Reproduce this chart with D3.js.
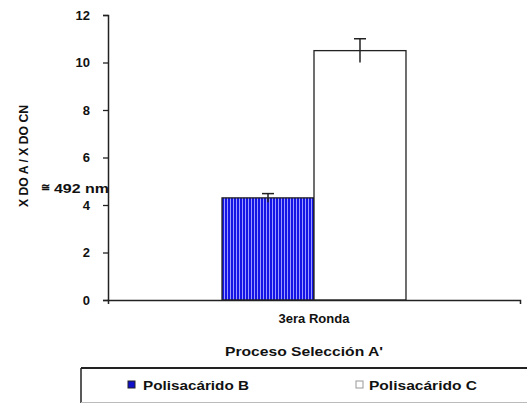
<!DOCTYPE html>
<html><head><meta charset="utf-8">
<script src="https://cdn.jsdelivr.net/npm/d3@7"></script>
<style>
body{margin:0;background:#fff;}
text{font-family:"Liberation Sans",Arial,sans-serif;font-weight:bold;fill:#111;}
</style></head>
<body><svg id="c" width="527" height="404"></svg>
<script>
const categories = ["3era Ronda"];
const seriesNames = ["Polisacárido B", "Polisacárido C"];
const polisacaridoB = [4.3];
const polisacaridoC = [10.5];
const errB = [0.18];
const errC = [0.5];
const yTicks = [0, 2, 4, 6, 8, 10, 12];

const svg = d3.select("#c");
const defs = svg.append("defs");
const pat = defs.append("pattern").attr("id","stripes").attr("patternUnits","userSpaceOnUse")
  .attr("width",3).attr("height",10);
pat.append("rect").attr("width",3).attr("height",10).attr("fill","#1414e6");
pat.append("rect").attr("x",2).attr("width",1).attr("height",10).attr("fill","#9a9aff");

const pLeft = 108, pRight = 520, pTop = 15, pBottom = 300;
const y = d3.scaleLinear().domain([0,12]).range([pBottom, pTop]);
const x0 = d3.scaleBand().domain(categories).range([pLeft, pRight]).paddingInner(0.3826).paddingOuter(0.3826);
const x1 = d3.scaleBand().domain(seriesNames).range([0, x0.bandwidth()]).padding(0);

const data = categories.map((c,i)=>({cat:c, vals:[
  {s:seriesNames[0], v:polisacaridoB[i], e:errB[i], fill:"url(#stripes)"},
  {s:seriesNames[1], v:polisacaridoC[i], e:errC[i], fill:"#fff"}]}));

const g = svg.append("g");
data.forEach(d=>{
  d.vals.forEach(b=>{
    const bx = x0(d.cat) + x1(b.s);
    g.append("rect").attr("x",bx).attr("y",y(b.v)).attr("width",x1.bandwidth()).attr("height",y(0)-y(b.v))
      .attr("fill",b.fill).attr("stroke","#222").attr("stroke-width",1.3);
    const cx = bx + x1.bandwidth()/2;
    g.append("line").attr("x1",cx).attr("x2",cx).attr("y1",y(b.v+b.e)).attr("y2",y(b.v-b.e)).attr("stroke","#222").attr("stroke-width",1.5);
    g.append("line").attr("x1",cx-6).attr("x2",cx+6).attr("y1",y(b.v+b.e)).attr("y2",y(b.v+b.e)).attr("stroke","#222").attr("stroke-width",1.5);
  });
});

// y axis
const ya = svg.append("g").attr("transform",`translate(${pLeft},0)`)
  .call(d3.axisLeft(y).tickValues(yTicks).tickFormat(d3.format("d")).tickSize(5).tickPadding(13));
ya.select(".domain").attr("stroke","#222").attr("stroke-width",1.5);
ya.selectAll(".tick line").attr("stroke","#222").attr("stroke-width",1.3);
ya.selectAll(".tick text").attr("font-size",13).attr("font-family","Liberation Sans, Arial, sans-serif").attr("font-weight","bold").attr("fill","#111");

// x axis
const xa = svg.append("g").attr("transform",`translate(0,${pBottom})`)
  .call(d3.axisBottom(x0).tickSize(0).tickPadding(14).tickSizeOuter(4));
xa.select(".domain").attr("stroke","#222").attr("stroke-width",1.5);
xa.selectAll(".tick text").attr("font-size",12).attr("font-family","Liberation Sans, Arial, sans-serif")
  .attr("font-weight","bold").attr("fill","#111").attr("textLength",71).attr("lengthAdjust","spacingAndGlyphs");

// y label
svg.append("text").attr("transform","translate(28,156) rotate(-90)").attr("text-anchor","middle")
  .attr("font-size",12).attr("textLength",102).attr("lengthAdjust","spacingAndGlyphs").text("X DO A / X DO CN");
svg.append("text").attr("x",41).attr("y",191).attr("font-size",11).text("≅");
svg.append("text").attr("x",54).attr("y",193).attr("font-size",13).attr("textLength",55).attr("lengthAdjust","spacingAndGlyphs").text("492 nm");

// x title
svg.append("text").attr("x",304).attr("y",356).attr("text-anchor","middle").attr("font-size",13)
  .attr("textLength",158).attr("lengthAdjust","spacingAndGlyphs").text("Proceso Selección A'");

// legend box
svg.append("line").attr("x1",81).attr("x2",527).attr("y1",368).attr("y2",368).attr("stroke","#222").attr("stroke-width",2);
svg.append("line").attr("x1",81).attr("x2",81).attr("y1",368).attr("y2",403).attr("stroke","#222").attr("stroke-width",1.5);
svg.append("line").attr("x1",81).attr("x2",527).attr("y1",402.5).attr("y2",402.5).attr("stroke","#bbb").attr("stroke-width",1);

const legItems = [
  {name:seriesNames[0], mx:128, tx:143, tl:106, fill:"#1010c8", stroke:"#222"},
  {name:seriesNames[1], mx:356, tx:369, tl:108, fill:"#fff", stroke:"#999"}];
legItems.forEach(l=>{
  svg.append("rect").attr("x",l.mx).attr("y",381).attr("width",7).attr("height",7)
    .attr("fill",l.fill).attr("stroke",l.stroke).attr("stroke-width",1);
  svg.append("text").attr("x",l.tx).attr("y",390).attr("font-size",13)
    .attr("textLength",l.tl).attr("lengthAdjust","spacingAndGlyphs").text(l.name);
});
</script></body></html>
